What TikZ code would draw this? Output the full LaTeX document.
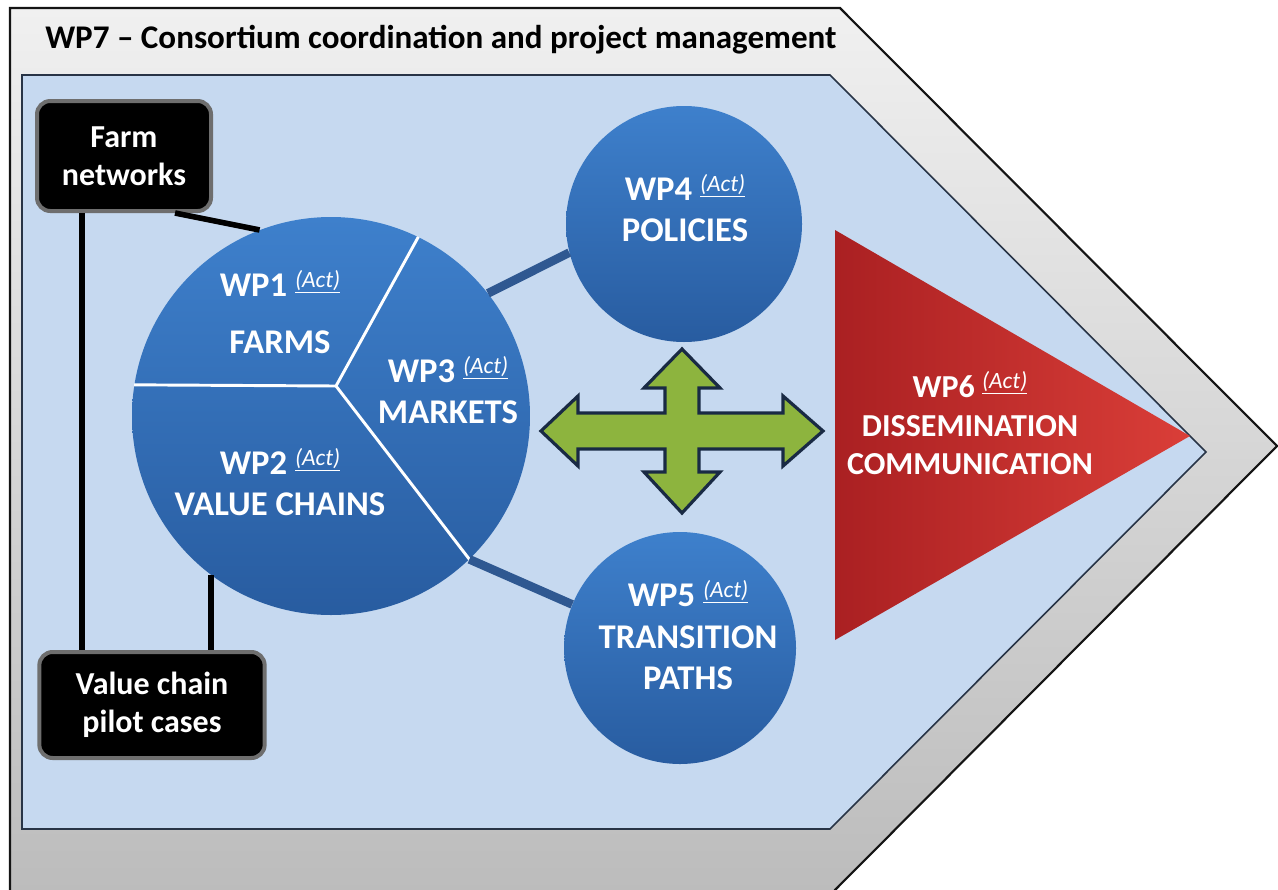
\documentclass[tikz,border=0pt]{standalone}
\usepackage{fontspec}
\setmainfont{Carlito}
\usepackage{xcolor}

\definecolor{frameedge}{RGB}{20,20,20}
\definecolor{frametop}{RGB}{240,240,240}
\definecolor{framebot}{RGB}{188,188,188}
\definecolor{panelfill}{RGB}{198,217,240}
\definecolor{paneledge}{RGB}{40,52,70}
\definecolor{wpbluetop}{RGB}{62,128,204}
\definecolor{wpbluebot}{RGB}{40,92,160}
\definecolor{linkblue}{RGB}{47,88,145}
\definecolor{boxrim}{RGB}{110,110,110}
\definecolor{arrowgreen}{RGB}{141,180,62}
\definecolor{arrowedge}{RGB}{25,42,68}
\definecolor{redleft}{RGB}{170,32,34}
\definecolor{redright}{RGB}{218,62,56}

\tikzset{
  wpball/.style={circle, draw=none, top color=wpbluetop, bottom color=wpbluebot, inner sep=0pt},
  wptext/.style={text=white, font=\bfseries\fontsize{26}{31}\selectfont, align=center, inner sep=0pt},
  blackbox/.style={rectangle, rounded corners=10pt, fill=black, draw=boxrim, line width=3pt, text=white,
    font=\bfseries\fontsize{24}{28.5}\selectfont, align=center, inner sep=0pt},
  tieline/.style={line width=4.2pt, black},
  linkline/.style={line width=6.5pt, linkblue},
  sectorline/.style={line width=2.2pt, white},
}
\newcommand{\actmark}{\raisebox{7pt}{\fontsize{17.5}{17.5}\selectfont\mdseries\itshape\underline{(Act)}}}

\begin{document}
\begin{tikzpicture}[x=0.75pt,y=0.75pt,yscale=-1,xscale=1]
\useasboundingbox (0,0) rectangle (1278,889);
\clip (0,0) rectangle (1278,889);

%Shape: Outer frame WP7
\shade[top color=frametop, bottom color=framebot] (10,8) -- (840,8) -- (1277,446) -- (832,893) -- (10,893) -- cycle;
\draw[frameedge, line width=1.6pt] (10,893) -- (10,8) -- (840,8) -- (1277,446) -- (832,893);
%Shape: Inner panel
\draw[paneledge, fill=panelfill, line width=1.2pt] (22,75) -- (830,75) -- (1206,452) -- (830,829) -- (22,829) -- cycle;

% Text Node
\node[anchor=west, inner sep=0pt, font=\bfseries\fontsize{24.8}{29}\selectfont] (wp7) at (45,40) {WP7 \textendash{} Consortium coordination and project management};

%Shape: Circles
\node[wpball, minimum size=298.5pt] (big) at (331,416) {};
\node[wpball, minimum size=177pt] (wp4) at (684,224) {};
\node[wpball, minimum size=174pt] (wp5) at (680,648) {};

%Sector lines
\coordinate (hub) at (336,386);
\draw[sectorline] (big.171.4) -- (hub) -- (big.64.7);
\draw[sectorline] (hub) -- (big.-46.2);

%Boxes
\node[blackbox, minimum width=130.5pt, minimum height=82.5pt] (farm) at (124,156) {Farm\\networks};
\node[blackbox, minimum width=169pt, minimum height=79.5pt] (vcp) at (152,705) {Value chain\\pilot cases};

%Straight Lines
\draw[tieline] (82,0 |- farm.south) -- (82,0 |- vcp.north);
\draw[tieline] (175,0 |- farm.south) -- (big.111);
\draw[tieline] (big.233) -- (big.233 |- vcp.north);
\draw[linkline] (big.38.7) -- (wp4.194);
\draw[linkline] (big.-46.2) -- (wp5.158);

%Shape: Four way arrow
\draw[arrowedge, fill=arrowgreen, line width=2.4pt, line join=miter]
  (541,431) -- (578,396) -- (578,413) -- (665,413) -- (665,388) -- (644,388) -- (682,349)
  -- (720,388) -- (699,388) -- (699,413) -- (783,413) -- (783,396) -- (823,431)
  -- (783,466) -- (783,449) -- (699,449) -- (699,472) -- (720,472) -- (682,513)
  -- (644,472) -- (665,472) -- (665,449) -- (578,449) -- (578,466) -- cycle;

%Shape: Triangle WP6
\shade[left color=redleft, right color=redright] (835,230) -- (1190,436) -- (835,640) -- cycle;

% Text Node
\node[wptext] (wp1) at (280,312) {WP1 \actmark\\[12pt]FARMS};
% Text Node
\node[wptext] (wp3) at (448,390) {WP3 \actmark\\MARKETS};
% Text Node
\node[wptext] (wp2) at (280,482) {WP2 \actmark\\VALUE CHAINS};
% Text Node
\node[wptext] (wp4lbl) at (685,208) {WP4 \actmark\\POLICIES};
% Text Node
\node[wptext] (wp5lbl) at (688,635) {WP5 \actmark\\TRANSITION\\PATHS};
% Text Node
\node[wptext, font=\bfseries\fontsize{24}{29}\selectfont] (wp6) at (970,423) {WP6 \actmark\\DISSEMINATION\\COMMUNICATION};

\end{tikzpicture}
\end{document}
